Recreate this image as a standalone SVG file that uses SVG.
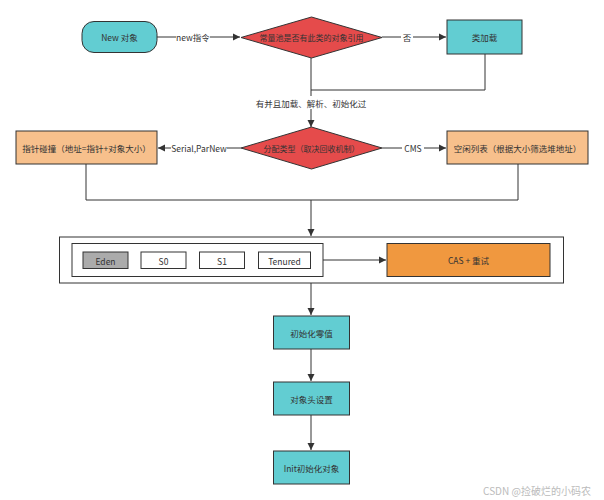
<svg xmlns="http://www.w3.org/2000/svg" width="604" height="500" viewBox="0 0 604 500">
<defs>
<marker id="ah" markerWidth="8" markerHeight="8" refX="7" refY="4" orient="auto" markerUnits="userSpaceOnUse">
<path d="M0,0.5 L7,4 L0,7.5 Z" fill="#333"/>
</marker>
<style>
text{font-family:"Noto Sans CJK SC","Noto Sans",sans-serif;fill:#333;font-size:8.5px;text-anchor:middle;dominant-baseline:central}
.teal{fill:#62CDD2;stroke:#333;stroke-width:1}
.red{fill:#E54B4B;stroke:#333;stroke-width:1}
.peach{fill:#F7C08C;stroke:#333;stroke-width:1}
.orange{fill:#F0983F;stroke:#333;stroke-width:1}
.white{fill:#fff;stroke:#333;stroke-width:1}
.frame{fill:none;stroke:#333;stroke-width:1}
.edge{fill:none;stroke:#333;stroke-width:1}
.lbl{fill:#fff}
</style>
</defs>
<rect width="604" height="500" fill="#fff"/>
<g id="connectors">
<path class="edge" d="M157,37 H240" marker-end="url(#ah)"/>
<rect class="lbl" x="176" y="31" width="34" height="12"/>
<text x="193" y="37">new指令</text>
<path class="edge" d="M382,37 H446" marker-end="url(#ah)"/>
<rect class="lbl" x="401" y="31" width="12" height="12"/>
<text x="407" y="37">否</text>
<path class="edge" d="M485,54 V90 H311"/>
<path class="edge" d="M311,58 V127" marker-end="url(#ah)"/>
<rect class="lbl" x="257" y="96" width="108" height="13"/>
<text x="311" y="102.5">有并且加载、解析、初始化过</text>
<path class="edge" d="M241,148 H158" marker-end="url(#ah)"/>
<rect class="lbl" x="171" y="142" width="56" height="12"/>
<text x="199" y="148">Serial,ParNew</text>
<path class="edge" d="M382,148 H446" marker-end="url(#ah)"/>
<rect class="lbl" x="402" y="142" width="22" height="12"/>
<text x="413" y="148">CMS</text>
<path class="edge" d="M86,164 V200 H518 V164"/>
<path class="edge" d="M311,200 V236" marker-end="url(#ah)"/>
<path class="edge" d="M323,260 H386" marker-end="url(#ah)"/>
<path class="edge" d="M311,283 V315" marker-end="url(#ah)"/>
<path class="edge" d="M311,349 V381" marker-end="url(#ah)"/>
<path class="edge" d="M311,415 V450" marker-end="url(#ah)"/>
</g>
<g id="new-obj">
<rect class="teal" x="82" y="21.5" width="75" height="31" rx="12"/>
<text x="119.5" y="37">New 对象</text>
</g>
<g id="check-const">
<polygon class="red" points="241,37.5 311.5,17 382,37.5 311.5,58"/>
<text x="311.5" y="37.5" style="font-size:8px">常量池是否有此类的对象引用</text>
</g>
<g id="class-load">
<rect class="teal" x="447" y="20" width="75" height="34"/>
<text x="484.5" y="37">类加载</text>
</g>
<g id="alloc-type">
<polygon class="red" points="241,148 311.5,127 382,148 311.5,169"/>
<text x="311.5" y="148" style="font-size:8px">分配类型（取决回收机制）</text>
</g>
<g id="bump">
<rect class="peach" x="16" y="131" width="141" height="33"/>
<text x="86.5" y="147.5">指针碰撞（地址=指针+对象大小）</text>
</g>
<g id="freelist">
<rect class="peach" x="447" y="131" width="141" height="33"/>
<text x="517.5" y="147.5">空闲列表（根据大小筛选堆地址）</text>
</g>
<g id="heap">
<rect class="frame" x="59.5" y="237" width="504" height="46"/>
<rect class="white" x="72" y="243.5" width="251" height="33"/>
<rect x="83" y="252" width="45" height="16.5" fill="#ABABAB" stroke="#333" stroke-width="1"/>
<text x="105.5" y="260.5">Eden</text>
<rect class="white" x="141" y="252" width="45" height="16.5"/>
<text x="163.5" y="260.5">S0</text>
<rect class="white" x="199.5" y="252" width="45" height="16.5"/>
<text x="222" y="260.5">S1</text>
<rect class="white" x="258.5" y="252" width="52" height="16.5"/>
<text x="284.5" y="260.5">Tenured</text>
</g>
<g id="cas">
<rect class="orange" x="387" y="243.5" width="163" height="33"/>
<text x="468.5" y="260">CAS + 重试</text>
</g>
<g id="zero-init">
<rect class="teal" x="273.5" y="316" width="76" height="33"/>
<text x="311.5" y="332.5">初始化零值</text>
</g>
<g id="header">
<rect class="teal" x="273.5" y="382" width="76" height="33"/>
<text x="311.5" y="398.5">对象头设置</text>
</g>
<g id="init">
<rect class="teal" x="273.5" y="451" width="76" height="33"/>
<text x="311.5" y="467.5">Init初始化对象</text>
</g>
<text x="537" y="490" style="font-size:10px;fill:#bbb">CSDN @捡破烂的小码农</text>
</svg>
